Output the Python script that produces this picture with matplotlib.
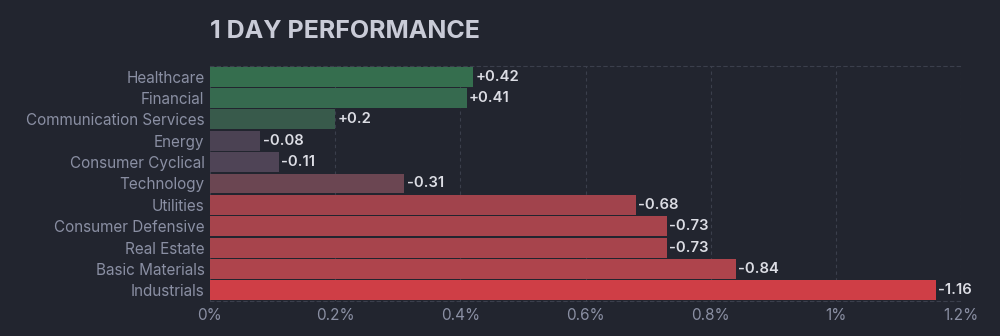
import matplotlib
matplotlib.use("Agg")
import matplotlib.pyplot as plt

sectors = ["Healthcare", "Financial", "Communication Services", "Energy",
           "Consumer Cyclical", "Technology", "Utilities", "Consumer Defensive",
           "Real Estate", "Basic Materials", "Industrials"]
changes = [0.42, 0.41, 0.2, -0.08, -0.11, -0.31, -0.68, -0.73, -0.73, -0.84, -1.16]
colors = ["#356e4e", "#366a4f", "#385a4b", "#4b4253", "#4f4456", "#6b4652",
          "#a1434c", "#a7444c", "#a7444c", "#ae444c", "#cf3e46"]
xticks = [0, 0.2, 0.4, 0.6, 0.8, 1.0, 1.2]
xticklabels = ["0%", "0.2%", "0.4%", "0.6%", "0.8%", "1%", "1.2%"]
title = "1 DAY PERFORMANCE"

bg = "#22252f"
plt.rcParams['font.family'] = ['Inter', 'DejaVu Sans']

fig = plt.figure(figsize=(10, 3.36), dpi=100, facecolor=bg)
ax = fig.add_axes([0.21, 0.1042, 0.751, 0.6994])
ax.set_facecolor(bg)

ypos = list(range(len(sectors)))
lengths = [abs(v) for v in changes]
bars = ax.barh(ypos, lengths, height=0.93, color=colors, zorder=3)
ax.set_ylim(len(sectors) - 0.5, -0.5)
ax.set_xlim(0, 1.2)

for b, v in zip(bars, changes):
    txt = f"+{v:g}" if v > 0 else f"-{abs(v):g}"
    ax.text(b.get_width() + 0.004, b.get_y() + b.get_height() / 2, txt,
            va="center", ha="left", color="#dcdde4", fontsize=10.7,
            fontweight="semibold", zorder=4)

ax.set_yticks(ypos)
ax.set_yticklabels(sectors)
ax.set_xticks(xticks)
ax.set_xticklabels(xticklabels)
ax.tick_params(axis="both", length=0, colors="#8a8fa3", labelsize=11)
ax.tick_params(axis="y", pad=4)
ax.tick_params(axis="x", pad=5)

ax.grid(axis="x", color="#3b3f4c", linestyle=(0, (3, 3)), linewidth=0.8, zorder=0)
for side in ["left", "right"]:
    ax.spines[side].set_visible(False)
for side in ["top", "bottom"]:
    ax.spines[side].set_color("#3b3f4c")
    ax.spines[side].set_linestyle((0, (3, 3)))
    ax.spines[side].set_linewidth(0.8)

fig.text(0.21, 0.905, title, color="#c9cbd7", fontsize=18, fontweight="bold",
         ha="left", va="center")

fig.savefig("out.png", dpi=100, facecolor=bg)
